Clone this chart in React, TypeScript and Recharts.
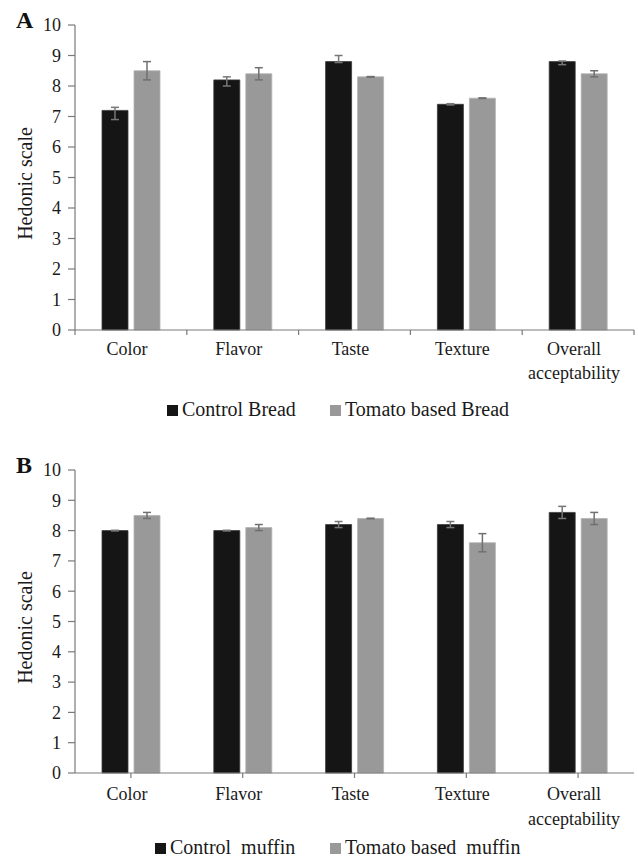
import React from 'react';
import { BarChart, Bar, XAxis, YAxis, ErrorBar } from 'recharts';

const categories = ['Color', 'Flavor', 'Taste', 'Texture', 'Overall acceptability'];
const yTicks = [0, 1, 2, 3, 4, 5, 6, 7, 8, 9, 10];

// panel A - bread
const breadControl = [7.2, 8.2, 8.8, 7.4, 8.8];
const breadControlErr = [[0.3, 0.1], [0.2, 0.1], [0.03, 0.2], [0.02, 0.02], [0.1, 0.02]];
const breadTomato = [8.5, 8.4, 8.3, 7.6, 8.4];
const breadTomatoErr = [[0.3, 0.3], [0.2, 0.2], [0.01, 0.01], [0.01, 0.01], [0.1, 0.1]];

// panel B - muffin
const muffinControl = [8.0, 8.0, 8.2, 8.2, 8.6];
const muffinControlErr = [0.01, 0.01, 0.1, 0.1, 0.2];
const muffinTomato = [8.5, 8.1, 8.4, 7.6, 8.4];
const muffinTomatoErr = [0.1, 0.1, 0.01, 0.3, 0.2];

const FONT = '"Liberation Serif", "Times New Roman", serif';
const BLACK = '#151515';
const GRAY = '#999999';
const AXIS = '#7a7a7a';
const W = 638;
const Y_AXIS_W = 75;
const RIGHT = 4;
const PLOT_W = W - Y_AXIS_W - RIGHT;
const HALF_BAND = PLOT_W / categories.length / 2;

const bread = categories.map((c, i) => ({
    name: c,
    control: breadControl[i],
    controlErr: breadControlErr[i],
    tomato: breadTomato[i],
    tomatoErr: breadTomatoErr[i],
}));

const muffin = categories.map((c, i) => ({
    name: c,
    control: muffinControl[i],
    controlErr: muffinControlErr[i],
    tomato: muffinTomato[i],
    tomatoErr: muffinTomatoErr[i],
}));

const CategoryTick = (props: any) => {
    const { x, y, payload, index, boundaryTicks, tickSize, tickMargin, lineGap } = props;
    const words = String(payload.value) === 'Overall acceptability' ? ['Overall', 'acceptability'] : [payload.value];
    const axisY = y - tickMargin - tickSize;
    return (
        <g>
            {boundaryTicks && (
                <line x1={x - HALF_BAND} x2={x - HALF_BAND} y1={axisY} y2={axisY + tickSize} stroke={AXIS} strokeWidth={1.2} />
            )}
            {boundaryTicks && index === categories.length - 1 && (
                <line x1={x + HALF_BAND} x2={x + HALF_BAND} y1={axisY} y2={axisY + tickSize} stroke={AXIS} strokeWidth={1.2} />
            )}
            <text x={x - 4} y={y} textAnchor="middle" fontFamily={FONT} fontSize={18} fill="#1a1a1a">
                {words.map((w: string, k: number) => (
                    <tspan key={w} x={x - 4} dy={k === 0 ? '0.71em' : lineGap}>{w}</tspan>
                ))}
            </text>
        </g>
    );
};

const YLabel = (props: any) => {
    const { viewBox } = props;
    const cy = viewBox.y + viewBox.height / 2 + 6;
    return (
        <text x={25} y={cy} transform={`rotate(-90 25 ${cy})`} textAnchor="middle" dominantBaseline="central"
            fontFamily={FONT} fontSize={20} fill="#1a1a1a">
            Hedonic scale
        </text>
    );
};

interface PanelProps {
    data: any[];
    letter: string;
    plotH: number;
    boundaryTicks: boolean;
    tickMargin: number;
    lineGap: number;
}

const Panel: React.FC<PanelProps> = ({ data, letter, plotH, boundaryTicks, tickMargin, lineGap }) => {
    const height = 390;
    const top = 25;
    return (
        <div style={{ position: 'relative', width: W, height }}>
            <BarChart width={W} height={height} data={data} margin={{ top, right: RIGHT, left: 0, bottom: 0 }}
                barSize={26} barGap={6}>
                <XAxis
                    dataKey="name"
                    height={height - top - plotH}
                    stroke={AXIS}
                    strokeWidth={1.2}
                    tickLine={!boundaryTicks}
                    tickSize={5}
                    tickMargin={tickMargin}
                    interval={0}
                    tick={<CategoryTick boundaryTicks={boundaryTicks} tickSize={5} tickMargin={tickMargin} lineGap={lineGap} />}
                />
                <YAxis
                    width={Y_AXIS_W}
                    domain={[0, 10]}
                    ticks={yTicks}
                    interval={0}
                    stroke={AXIS}
                    strokeWidth={1.2}
                    tickSize={7}
                    tickMargin={7}
                    tick={{ fontFamily: FONT, fontSize: 18, fill: '#1a1a1a' }}
                    label={<YLabel />}
                />
                <Bar dataKey="control" fill={BLACK} stroke="#3a3a3a" strokeWidth={0.8} isAnimationActive={false}>
                    <ErrorBar dataKey="controlErr" width={4} stroke="#777777" strokeWidth={1.5} direction="y" />
                </Bar>
                <Bar dataKey="tomato" fill={GRAY} stroke="#b3b3b3" strokeWidth={0.8} isAnimationActive={false}>
                    <ErrorBar dataKey="tomatoErr" width={4} stroke="#707070" strokeWidth={1.5} direction="y" />
                </Bar>
            </BarChart>
            <div style={{ position: 'absolute', left: 16, top: 7, fontFamily: FONT, fontSize: 24, fontWeight: 'bold', color: '#111' }}>
                {letter}
            </div>
        </div>
    );
};

const LegendRow: React.FC<{ top: number; items: { label: string; color: string; left: number }[] }> = ({ top, items }) => (
    <>
        {items.map((it) => (
            <div key={it.label} style={{ position: 'absolute', left: it.left, top, display: 'flex', alignItems: 'center',
                fontFamily: FONT, fontSize: 20, color: '#1a1a1a', whiteSpace: 'pre', lineHeight: '20px' }}>
                <span style={{ display: 'inline-block', width: 11, height: 11, background: it.color, marginRight: 4, marginTop: 2 }} />
                {it.label}
            </div>
        ))}
    </>
);

export default function App() {
    return (
        <div style={{ position: 'absolute', left: 0, top: 0, width: W, height: 861, background: '#fff', overflow: 'hidden' }}>
            <div style={{ position: 'absolute', left: 0, top: 0 }}>
                <Panel data={bread} letter="A" plotH={305} boundaryTicks={true} tickMargin={7} lineGap={24} />
            </div>
            <LegendRow top={399} items={[
                { label: 'Control Bread', color: BLACK, left: 167 },
                { label: 'Tomato based Bread', color: GRAY, left: 330 },
            ]} />
            <div style={{ position: 'absolute', left: 0, top: 445 }}>
                <Panel data={muffin} letter="B" plotH={303} boundaryTicks={false} tickMargin={9} lineGap={25} />
            </div>
            <LegendRow top={837} items={[
                { label: 'Control  muffin', color: BLACK, left: 155 },
                { label: 'Tomato based  muffin', color: GRAY, left: 330 },
            ]} />
        </div>
    );
}
